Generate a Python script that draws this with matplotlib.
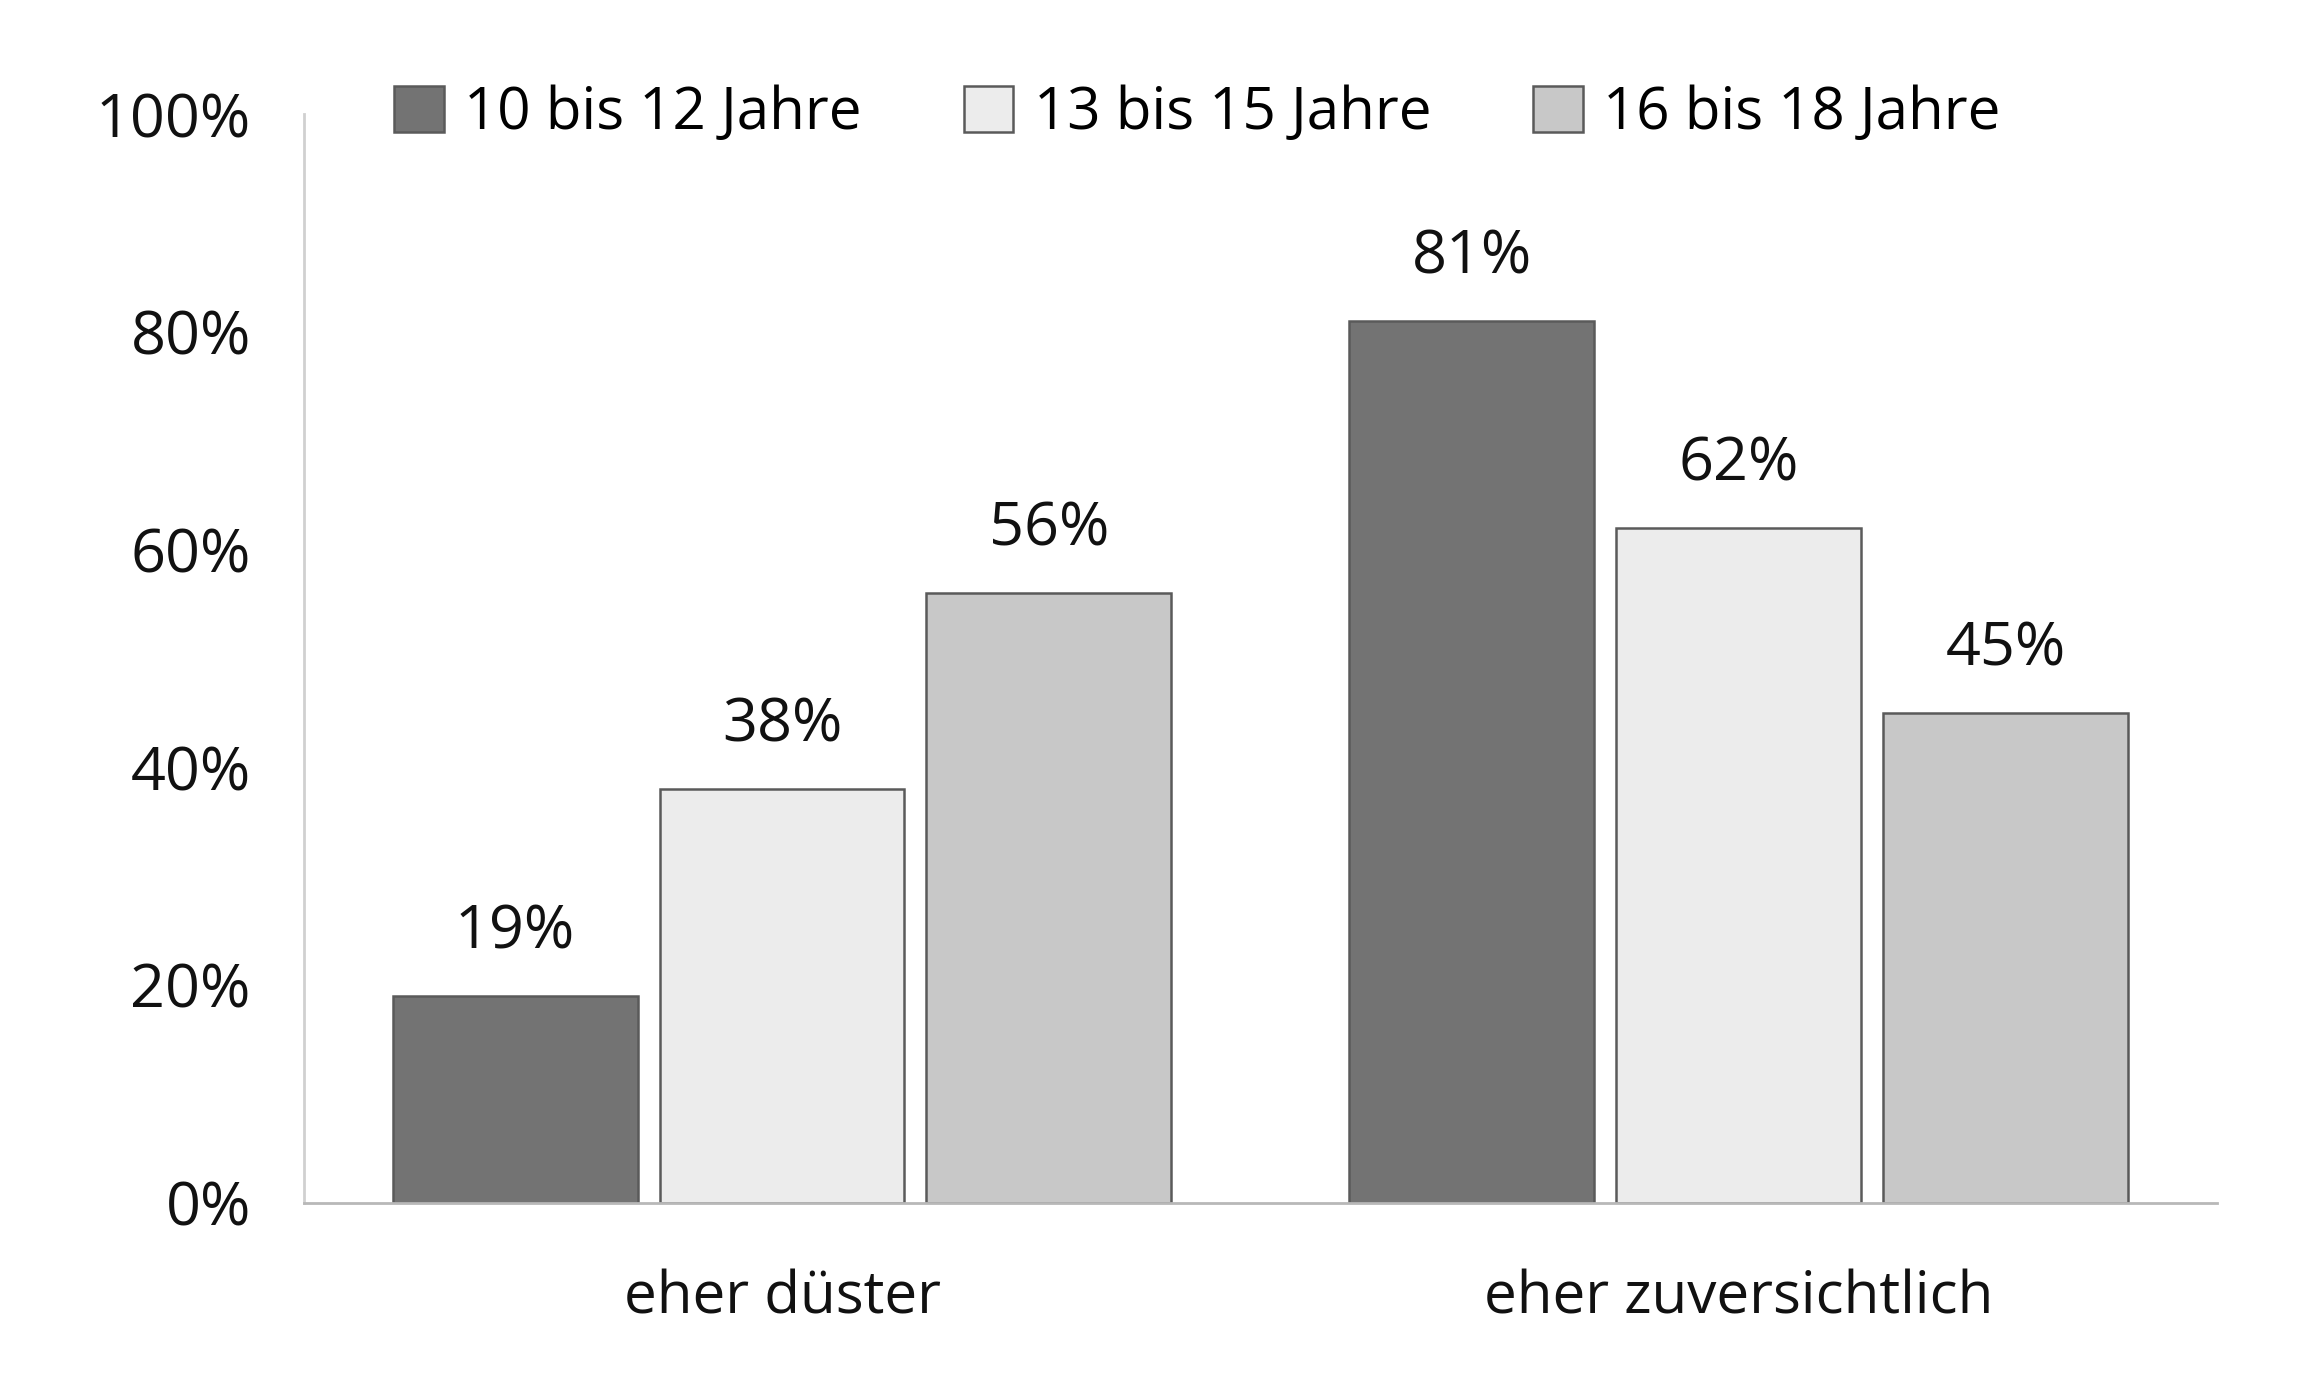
import matplotlib.pyplot as plt
import numpy as np

plt.rcParams["font.family"] = ["Open Sans", "DejaVu Sans"]

categories = ["eher düster", "eher zuversichtlich"]
series_labels = ["10 bis 12 Jahre", "13 bis 15 Jahre", "16 bis 18 Jahre"]
values_10_12 = [19, 81]
values_13_15 = [38, 62]
values_16_18 = [56, 45]
yticks = [0, 20, 40, 60, 80, 100]

colors = ["#737373", "#ececec", "#c8c8c8"]

fig = plt.figure(figsize=(11.5, 6.96), dpi=200)
ax = fig.add_axes([0.132, 0.136, 0.832, 0.782])

x = np.arange(len(categories))
width = 0.256
offsets = [-0.279, 0, 0.279]
for vals, label, color, off in zip(
    [values_10_12, values_13_15, values_16_18], series_labels, colors, offsets
):
    bars = ax.bar(x + off, vals, width, color=color, edgecolor="#5a5a5a",
                  linewidth=0.9, label=label, zorder=2)
    ax.bar_label(bars, labels=[f"{v}%" for v in vals], padding=12,
                 fontsize=22, color="#111111")

ax.set_xlim(-0.5, 1.5)
ax.set_ylim(0, 100)
ax.set_yticks(yticks)
ax.set_yticklabels([f"{v}%" for v in yticks], fontsize=22, color="#111111")
ax.set_xticks(x)
ax.set_xticklabels(categories, fontsize=21, color="#111111")
ax.tick_params(axis="y", length=0, pad=19)
ax.tick_params(axis="x", length=0, pad=24)

for s in ["top", "right"]:
    ax.spines[s].set_visible(False)
ax.spines["left"].set_color("#d0d0d0")
ax.spines["bottom"].set_color("#b8b8b8")
ax.spines["left"].set_linewidth(1.0)
ax.spines["bottom"].set_linewidth(1.0)

ax.legend(loc="center", bbox_to_anchor=(0.467, 1.0), ncol=3, frameon=False,
          fontsize=21, handlelength=0.85, handleheight=0.85,
          handletextpad=0.35, columnspacing=1.75)

fig.savefig("out.png", dpi=200, facecolor="white")
